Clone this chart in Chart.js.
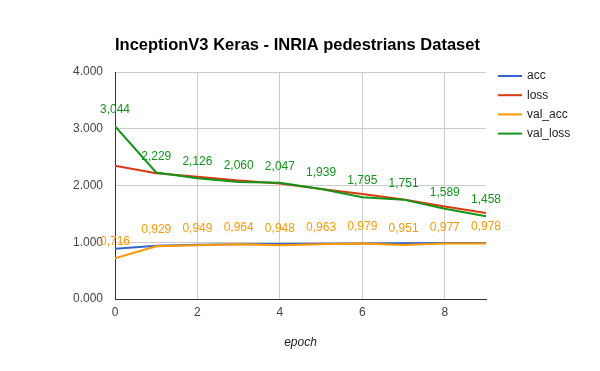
<!DOCTYPE html>
<html>
<head>
<meta charset="utf-8">
<script src="https://cdn.jsdelivr.net/npm/chart.js@4/dist/chart.umd.min.js"></script>
<style>
html,body{margin:0;padding:0;background:#fff;}
#wrap{width:600px;height:371px;}
</style>
</head>
<body>
<div id="wrap"><canvas id="c" width="600" height="371"></canvas></div>
<script>
const chartTitle = "InceptionV3 Keras - INRIA pedestrians Dataset";
const xTitle = "epoch";
const epochs = [0, 1, 2, 3, 4, 5, 6, 7, 8, 9];
const acc = [0.885, 0.94, 0.955, 0.963, 0.968, 0.972, 0.978, 0.982, 0.986, 0.988];
const loss = [2.35, 2.215, 2.155, 2.09, 2.035, 1.94, 1.85, 1.755, 1.63, 1.515];
const valAcc = [0.716, 0.929, 0.949, 0.964, 0.948, 0.963, 0.979, 0.951, 0.977, 0.978];
const valLoss = [3.044, 2.229, 2.126, 2.060, 2.047, 1.939, 1.795, 1.751, 1.589, 1.458];
const seriesNames = ["acc", "loss", "val_acc", "val_loss"];
const seriesColors = ["#3366cc", "#dc3912", "#ff9900", "#109618"];
const labelledSeries = [false, false, true, true];

const FONT = "Arial, 'Liberation Sans', sans-serif";
const allSeries = [acc, loss, valAcc, valLoss];

const datasets = allSeries.map((arr, i) => ({
  label: seriesNames[i],
  data: epochs.map((e, j) => ({x: e, y: arr[j]})),
  borderColor: seriesColors[i],
  backgroundColor: seriesColors[i],
  borderWidth: 2,
  pointRadius: 0,
  pointHoverRadius: 0,
  tension: 0,
  fill: false,
  order: 4 - i,
  showLabels: labelledSeries[i]
}));

const fmtComma = v => v.toFixed(3).replace('.', ',');

const decor = {
  id: 'decor',
  afterDatasetsDraw(chart) {
    const ctx = chart.ctx;
    ctx.save();
    // data labels
    ctx.font = "12px " + FONT;
    ctx.textAlign = 'center';
    ctx.textBaseline = 'alphabetic';
    chart.data.datasets.forEach((ds, i) => {
      if (!ds.showLabels) return;
      const meta = chart.getDatasetMeta(i);
      ctx.fillStyle = ds.borderColor;
      meta.data.forEach((pt, j) => {
        ctx.fillText(fmtComma(ds.data[j].y), pt.x, pt.y - 13);
      });
    });
    // title
    ctx.fillStyle = '#000';
    ctx.font = "bold 16.5px " + FONT;
    ctx.textAlign = 'center';
    ctx.fillText(chartTitle, 297.5, 50);
    // legend
    ctx.font = "12px " + FONT;
    ctx.textAlign = 'left';
    ctx.textBaseline = 'middle';
    chart.data.datasets.forEach((ds, i) => {
      const y = 76 + i * 19.2;
      ctx.strokeStyle = ds.borderColor;
      ctx.lineWidth = 2;
      ctx.beginPath();
      ctx.moveTo(498, y);
      ctx.lineTo(522, y);
      ctx.stroke();
      ctx.fillStyle = '#222';
      ctx.fillText(ds.label, 527, y);
    });
    ctx.restore();
  }
};

new Chart(document.getElementById('c'), {
  type: 'line',
  data: {datasets},
  options: {
    responsive: false,
    animation: false,
    devicePixelRatio: 1,
    layout: {padding: {top: 72, right: 114, left: 0, bottom: 0}},
    plugins: {legend: {display: false}, tooltip: {enabled: false}, title: {display: false}},
    scales: {
      x: {
        type: 'linear', min: 0, max: 9,
        ticks: {stepSize: 2, includeBounds: false, color: '#444', padding: 6, font: {family: FONT, size: 12}},
        grid: {color: '#cccccc', drawTicks: false, lineWidth: 1},
        border: {color: '#333333', width: 1},
        title: {display: true, text: xTitle, color: '#222', font: {family: FONT, size: 12, style: 'italic'}, padding: {top: 0, bottom: 21}},
        afterFit(s) { s.height = 72; }
      },
      y: {
        min: 0, max: 4,
        ticks: {stepSize: 1, color: '#444', padding: 12, font: {family: FONT, size: 12}, callback: v => v.toFixed(3)},
        grid: {color: '#cccccc', drawTicks: false, lineWidth: 1},
        border: {color: '#333333', width: 1},
        afterFit(s) { s.width = 115; }
      }
    }
  },
  plugins: [decor]
});
</script>
</body>
</html>
